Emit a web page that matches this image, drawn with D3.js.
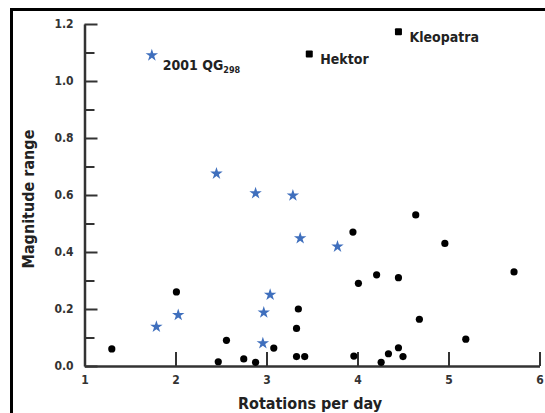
<!DOCTYPE html>
<html>
<head>
<meta charset="utf-8">
<script src="https://cdn.jsdelivr.net/npm/d3@7"></script>
<style>
  html, body { margin: 0; padding: 0; background: #fff; }
  svg { display: block; }
  text { font-family: "DejaVu Sans Condensed", "DejaVu Sans", sans-serif; }
</style>
</head>
<body>
<svg id="chart" width="545" height="413"></svg>
<script>
// Binary / ordinary Trojans (black dots)
const dotX = [1.30, 2.01, 2.47, 2.56, 2.75, 2.88, 3.08, 3.35, 3.33, 3.33, 3.42, 3.95, 4.64, 4.96, 5.72, 4.01, 4.21, 4.45, 4.68, 5.19, 3.96, 4.34, 4.45, 4.50, 4.26];
const dotY = [0.06, 0.26, 0.015, 0.09, 0.025, 0.013, 0.063, 0.20, 0.132, 0.033, 0.033, 0.47, 0.53, 0.43, 0.33, 0.29, 0.32, 0.31, 0.164, 0.094, 0.035, 0.043, 0.064, 0.033, 0.013];
// Blue stars
const starX = [1.74, 2.45, 2.88, 3.29, 3.37, 3.78, 1.79, 2.03, 2.96, 2.97, 3.04];
const starY = [1.09, 0.675, 0.606, 0.598, 0.448, 0.419, 0.138, 0.179, 0.08, 0.188, 0.25];
// Named squares
const squareNames = ["Hektor", "Kleopatra"];
const squareX = [3.47, 4.45];
const squareY = [1.095, 1.173];
// Ticks
const xTicks = [1, 2, 3, 4, 5, 6];
const yTicks = [0, 0.2, 0.4, 0.6, 0.8, 1.0, 1.2];
const yMinorTicks = [0.1, 0.3, 0.5, 0.7, 0.9, 1.1];
const xTitle = "Rotations per day";
const yTitle = "Magnitude range";

const svg = d3.select("#chart");
const x = d3.scaleLinear().domain([1, 6]).range([84.5, 539.5]);
const y = d3.scaleLinear().domain([0, 1.2]).range([366, 24]);

// frame (top and left edges)
svg.append("line").attr("x1", 11.5).attr("x2", 545).attr("y1", 9.5).attr("y2", 9.5)
  .attr("stroke", "#000").attr("stroke-width", 3);
svg.append("line").attr("x1", 11.5).attr("x2", 11.5).attr("y1", 8).attr("y2", 413)
  .attr("stroke", "#000").attr("stroke-width", 3);

// y minor ticks
const yMinor = svg.append("g").attr("transform", `translate(${x(1)},0)`)
  .call(d3.axisLeft(y).tickValues(yMinorTicks).tickSize(-10).tickSizeOuter(0).tickFormat(""));
yMinor.select(".domain").remove();
yMinor.selectAll(".tick line").attr("stroke", "#333").attr("stroke-width", 2);

// y axis
const yAxis = svg.append("g").attr("transform", `translate(${x(1)},0)`)
  .call(d3.axisLeft(y).tickValues(yTicks).tickSize(-13).tickSizeOuter(0).tickPadding(11).tickFormat(d3.format(".1f")));
yAxis.select(".domain").attr("stroke", "#333").attr("stroke-width", 2.5);
yAxis.selectAll(".tick line").attr("stroke", "#333").attr("stroke-width", 2);
yAxis.selectAll(".tick text").attr("fill", "#333").style("font-size", "12px").style("font-weight", "bold")
  .style("font-family", "'DejaVu Sans Condensed', sans-serif");

// x axis
const xAxis = svg.append("g").attr("transform", `translate(0,${y(0)})`)
  .call(d3.axisBottom(x).tickValues(xTicks).tickSize(-14).tickSizeOuter(0).tickPadding(9).tickFormat(d3.format("d")));
xAxis.select(".domain").attr("stroke", "#333").attr("stroke-width", 2.5);
xAxis.selectAll(".tick line").attr("stroke", "#333").attr("stroke-width", 2);
xAxis.selectAll(".tick text").attr("fill", "#333").style("font-size", "12px").style("font-weight", "bold")
  .style("font-family", "'DejaVu Sans Condensed', sans-serif");

// titles
svg.append("text").attr("x", 310).attr("y", 409).attr("text-anchor", "middle")
  .attr("fill", "#222").style("font-size", "16px").style("font-weight", "bold").text(xTitle);
svg.append("text").attr("transform", `translate(34,199) rotate(-90)`).attr("text-anchor", "middle")
  .attr("fill", "#222").style("font-size", "16px").style("font-weight", "bold").text(yTitle);

// dots
svg.append("g").selectAll("circle").data(dotX.map((d, i) => [d, dotY[i]])).join("circle")
  .attr("cx", d => x(d[0])).attr("cy", d => y(d[1])).attr("r", 3.6).attr("fill", "#000");

// stars
const star = d3.symbol().type(d3.symbolStar).size(48);
svg.append("g").selectAll("path").data(starX.map((d, i) => [d, starY[i]])).join("path")
  .attr("transform", d => `translate(${x(d[0])},${y(d[1])})`).attr("d", star).attr("fill", "#3f6fbd");

// squares
svg.append("g").selectAll("rect").data(squareX.map((d, i) => [d, squareY[i]])).join("rect")
  .attr("x", d => x(d[0]) - 3.5).attr("y", d => y(d[1]) - 3.5).attr("width", 7).attr("height", 7)
  .attr("rx", 1).attr("fill", "#000");

// annotations
const labels = svg.append("g").attr("fill", "#222").style("font-size", "14px").style("font-weight", "bold");
squareNames.forEach((n, i) => {
  labels.append("text").attr("x", x(squareX[i]) + 11).attr("y", y(squareY[i]) + 10).text(n);
});
const qg = labels.append("text").attr("x", x(starX[0]) + 11).attr("y", y(starY[0]) + 15);
qg.append("tspan").text("2001 QG");
qg.append("tspan").attr("dy", 3).style("font-size", "9px").text("298");
</script>
</body>
</html>
